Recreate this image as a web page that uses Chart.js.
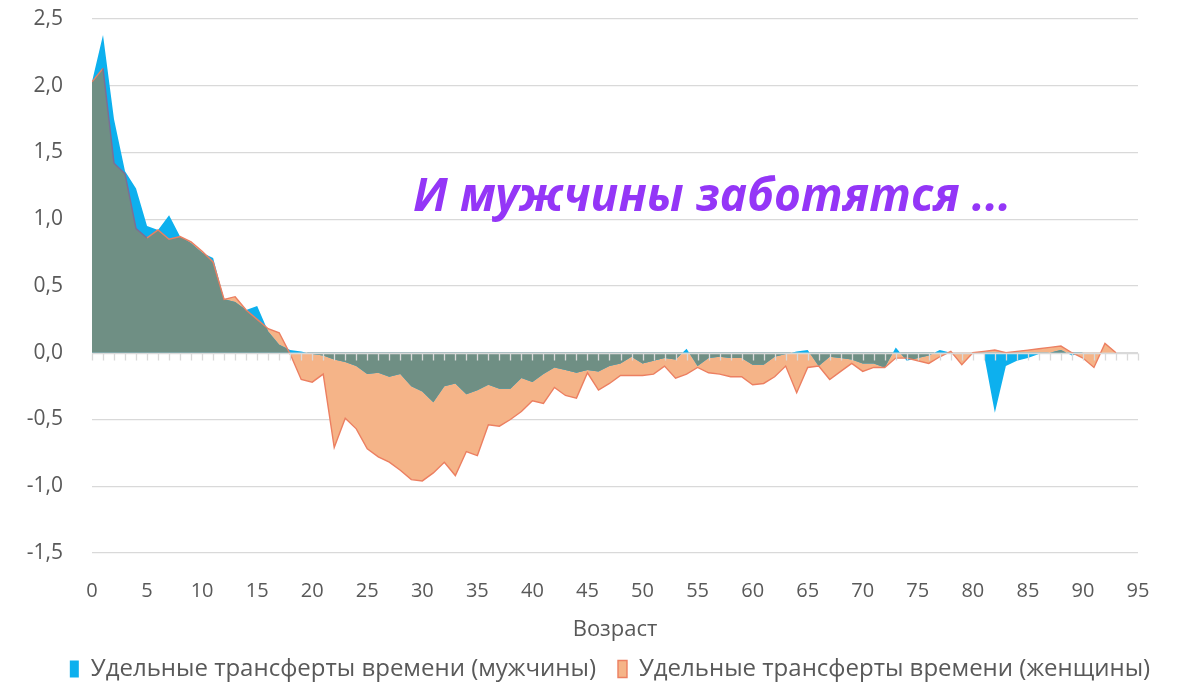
<!DOCTYPE html>
<html lang="ru">
<head>
<meta charset="UTF-8">
<title>Удельные трансферты времени</title>
<script src="https://cdn.jsdelivr.net/npm/chart.js@4.4.1/dist/chart.umd.min.js"></script>
<style>
    body { margin: 0; background: #fff; }
    .wrap { position: relative; width: 1178px; height: 688px; }
</style>
</head>
<body>
<div class="wrap"><canvas id="chart"></canvas></div>
<script>
// возраст 0..93
const ages = [];
for (let a = 0; a <= 93; a++) ages.push(a);

const xTicks = [0, 5, 10, 15, 20, 25, 30, 35, 40, 45, 50, 55, 60, 65, 70, 75, 80, 85, 90, 95];
const yTicks = [-1.5, -1.0, -0.5, 0.0, 0.5, 1.0, 1.5, 2.0, 2.5];

const men = [
    2.03, 2.38, 1.75, 1.36, 1.23, 0.95, 0.92, 1.03, 0.87, 0.82,
    0.75, 0.71, 0.40, 0.38, 0.32, 0.35, 0.16, 0.06, 0.02, 0.01,
    -0.01, -0.02, -0.05, -0.07, -0.10, -0.16, -0.15, -0.18, -0.16, -0.25,
    -0.29, -0.37, -0.25, -0.23, -0.31, -0.28, -0.24, -0.27, -0.27, -0.19,
    -0.22, -0.16, -0.11, -0.13, -0.15, -0.13, -0.14, -0.10, -0.08, -0.03,
    -0.08, -0.06, -0.04, -0.05, 0.03, -0.10, -0.04, -0.03, -0.04, -0.04,
    -0.09, -0.09, -0.03, -0.01, 0.01, 0.02, -0.10, -0.03, -0.04, -0.05,
    -0.08, -0.08, -0.11, 0.04, -0.06, -0.04, -0.02, 0.02, 0.00, 0.00,
    0.00, -0.01, -0.45, -0.10, -0.06, -0.04, -0.01, 0.00, 0.02, -0.02,
    0.00, 0.00, 0.00, 0.00
];

const women = [
    2.03, 2.13, 1.42, 1.34, 0.93, 0.86, 0.92, 0.85, 0.87, 0.83,
    0.76, 0.68, 0.40, 0.42, 0.32, 0.25, 0.18, 0.15, -0.01, -0.20,
    -0.22, -0.16, -0.71, -0.49, -0.57, -0.72, -0.78, -0.82, -0.88, -0.95,
    -0.96, -0.90, -0.82, -0.92, -0.74, -0.77, -0.54, -0.55, -0.50, -0.44,
    -0.36, -0.38, -0.26, -0.32, -0.34, -0.15, -0.28, -0.23, -0.17, -0.17,
    -0.17, -0.16, -0.10, -0.19, -0.16, -0.11, -0.15, -0.16, -0.18, -0.18,
    -0.24, -0.23, -0.18, -0.10, -0.30, -0.11, -0.10, -0.20, -0.14, -0.08,
    -0.14, -0.11, -0.11, -0.04, -0.04, -0.06, -0.08, -0.03, 0.01, -0.09,
    0.00, 0.01, 0.02, 0.00, 0.01, 0.02, 0.03, 0.04, 0.05, 0.00,
    -0.04, -0.11, 0.07, 0.00
];

const menLabel = 'Удельные трансферты времени (мужчины)';
const womenLabel = 'Удельные трансферты времени (женщины)';
const noteText = 'И мужчины заботятся ...';

const BLUE = '#0db0ee';
const SALMON = '#f5b488';
const SALMON_LINE = '#ec7f61';
const INNER_LINE = '#7d6d96';
const OVERLAP = '#6f8f84';
const GRID = '#d9d9d9';
const TEXT = '#595959';
const FONT = "'Open Sans', 'DejaVu Sans', sans-serif";

// common part of both areas (same sign, smaller magnitude), with crossing points
function overlapOf(x, a, b) {
    const f = (p, q) => (p > 0 && q > 0) ? Math.min(p, q) : (p < 0 && q < 0) ? Math.max(p, q) : 0;
    const pts = [];
    for (let i = 0; i < x.length; i++) {
        pts.push({ x: x[i], y: f(a[i], b[i]) });
        if (i === x.length - 1) break;
        const da = a[i + 1] - a[i], db = b[i + 1] - b[i];
        const ts = [];
        if (da !== 0) ts.push(-a[i] / da);
        if (db !== 0) ts.push(-b[i] / db);
        if (da - db !== 0) ts.push((b[i] - a[i]) / (da - db));
        ts.filter(t => t > 0 && t < 1).sort((p, q) => p - q).forEach(t => {
            pts.push({ x: x[i] + t * (x[i + 1] - x[i]), y: f(a[i] + t * da, b[i] + t * db) });
        });
    }
    return pts;
}

const pairs = (x, y) => x.map((v, i) => ({ x: v, y: y[i] }));

// women's outline looks purple where it lies inside the men's (blue) area
const inside = i => (men[i] > 0 && women[i] > 0 && women[i] < men[i]) || (men[i] < 0 && women[i] < 0 && women[i] > men[i]);

const zeroAxis = {
    id: 'zeroAxis',
    afterDatasetsDraw(chart) {
        const { ctx, chartArea, scales } = chart;
        const y0 = Math.round(scales.y.getPixelForValue(0)) + 0.5;
        ctx.save();
        ctx.strokeStyle = GRID;
        ctx.lineWidth = 1.3;
        ctx.beginPath();
        ctx.moveTo(chartArea.left, y0);
        ctx.lineTo(chartArea.right, y0);
        for (let a = 0; a <= 95; a++) {
            const px = Math.round(scales.x.getPixelForValue(a)) + 0.5;
            ctx.moveTo(px, y0);
            ctx.lineTo(px, y0 + 7);
        }
        ctx.stroke();
        ctx.restore();
    }
};

// legend in the original sits a bit right of centre
const legendShift = {
    id: 'legendShift',
    afterLayout(chart) {
        chart.legend.left += 36;
        chart.legend.right += 36;
    }
};

const note = {
    id: 'note',
    afterDraw(chart) {
        const ctx = chart.ctx;
        ctx.save();
        ctx.font = "italic bold 46px " + FONT;
        ctx.fillStyle = '#9436f7';
        ctx.textBaseline = 'alphabetic';
        ctx.fillText(noteText, 413, 211, 602);
        ctx.restore();
    }
};

new Chart(document.getElementById('chart'), {
    type: 'line',
    data: {
        datasets: [
            { label: menLabel, data: pairs(ages, men), order: 3,
              backgroundColor: BLUE, borderColor: BLUE, borderWidth: 0, fill: 'origin' },
            { label: womenLabel, data: pairs(ages, women), order: 4,
              backgroundColor: SALMON, borderColor: SALMON_LINE, borderWidth: 0, fill: 'origin' },
            { label: '_overlap', data: overlapOf(ages, men, women), order: 2,
              backgroundColor: OVERLAP, borderColor: OVERLAP, borderWidth: 0, fill: 'origin' },
            { label: '_womenLine', data: pairs(ages, women), order: 1,
              borderColor: SALMON_LINE, borderWidth: 1.4, fill: false,
              segment: { borderColor: c => (inside(c.p0DataIndex) && inside(c.p1DataIndex)) ? INNER_LINE : SALMON_LINE } }
        ]
    },
    options: {
        responsive: true,
        maintainAspectRatio: false,
        animation: false,
        elements: { point: { radius: 0 }, line: { tension: 0 } },
        layout: { padding: { top: 19, right: 40, bottom: -3, left: 10 } },
        scales: {
            x: {
                type: 'linear', min: 0, max: 95,
                afterBuildTicks: s => { s.ticks = xTicks.map(v => ({ value: v })); },
                afterFit: s => { s.height = 82; s.paddingLeft = 0; s.paddingRight = 0; },
                grid: { display: false },
                border: { display: false },
                ticks: { color: TEXT, font: { family: FONT, size: 20 }, padding: 18, maxRotation: 0 },
                title: { display: true, text: 'Возраст', color: TEXT, font: { family: FONT, size: 22 }, padding: { top: 2, bottom: -8 } }
            },
            y: {
                min: -1.5, max: 2.5,
                afterBuildTicks: s => { s.ticks = yTicks.map(v => ({ value: v })); },
                afterFit: s => { s.width = 82; s.paddingTop = 0; s.paddingBottom = 0; },
                grid: { color: GRID, lineWidth: 1.3, drawTicks: false },
                border: { display: false },
                ticks: { color: TEXT, font: { family: FONT, size: 21 }, padding: 29,
                         callback: v => v.toFixed(1).replace('.', ',') }
            }
        },
        plugins: {
            tooltip: { enabled: false },
            legend: {
                position: 'bottom',
                labels: {
                    color: TEXT, font: { family: FONT, size: 24 },
                    boxWidth: 9, boxHeight: 17, padding: 22,
                    generateLabels: chart => {
                        const items = Chart.defaults.plugins.legend.labels.generateLabels(chart)
                            .filter(it => !it.text.startsWith('_'));
                        items.forEach(it => {
                            if (it.text === womenLabel) { it.lineWidth = 1.4; it.strokeStyle = SALMON_LINE; }
                        });
                        return items;
                    }
                }
            }
        }
    },
    plugins: [zeroAxis, legendShift, note]
});
</script>
</body>
</html>
